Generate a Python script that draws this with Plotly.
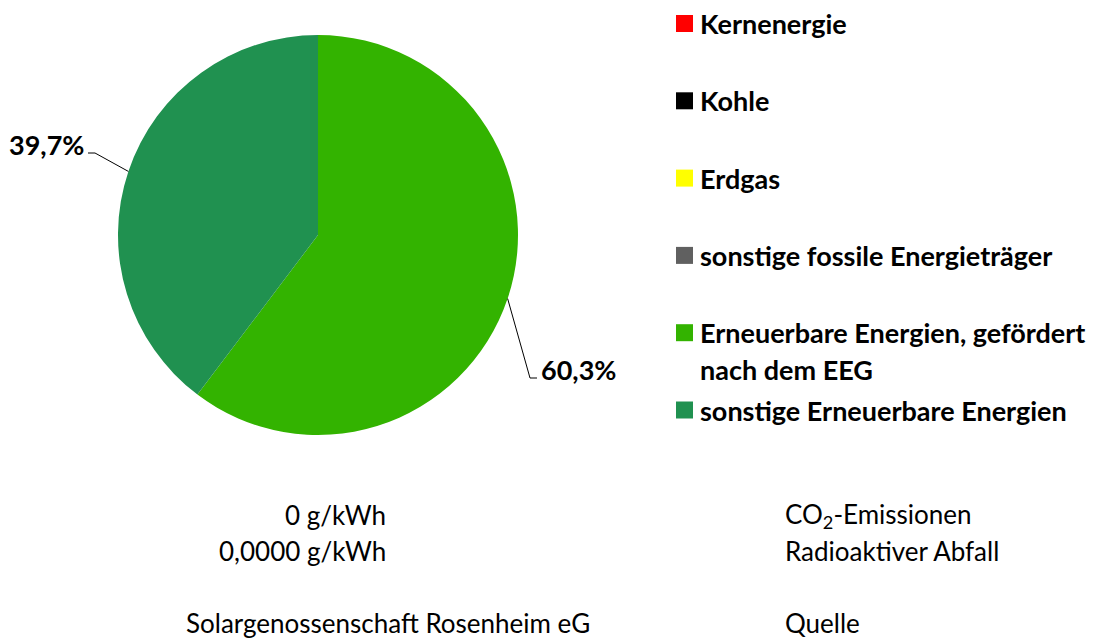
import math
import plotly.graph_objects as go

# ---- data ----
categories = ["Kernenergie", "Kohle", "Erdgas", "sonstige fossile Energieträger",
              "Erneuerbare Energien, gefördert nach dem EEG", "sonstige Erneuerbare Energien"]
legend_lines = [["Kernenergie"], ["Kohle"], ["Erdgas"], ["sonstige fossile Energieträger"],
                ["Erneuerbare Energien, gefördert", "nach dem EEG"], ["sonstige Erneuerbare Energien"]]
values = [0.0, 0.0, 0.0, 0.0, 60.3, 39.7]
colors = ["#FF0000", "#000000", "#FFFF00", "#606060", "#33B300", "#209150"]

info_values = ["0 g/kWh", "0,0000 g/kWh", "Solargenossenschaft Rosenheim eG"]
info_labels = ["CO<sub>2</sub>-Emissionen", "Radioaktiver Abfall", "Quelle"]

# ---- layout constants (pixels) ----
W, H = 1099, 639
CX, CY, R = 318, 235, 200
FONT = "Lato"
BOLD_SIZE = 27
REG_SIZE = 26

fig = go.Figure()

fig.add_trace(go.Pie(
    labels=categories, values=values, sort=False, direction="clockwise", rotation=0,
    marker=dict(colors=colors, line=dict(width=0)),
    textinfo="none", hoverinfo="label+percent", showlegend=False,
    domain=dict(x=[(CX - R) / W, (CX + R) / W], y=[1 - (CY + R) / H, 1 - (CY - R) / H]),
))

# legend squares (manual legend)
leg_y0, leg_step = 23.5, 77.3
leg_y = [leg_y0 + leg_step * i for i in range(len(categories))]
fig.add_trace(go.Scatter(
    x=[684.5] * len(categories), y=leg_y, mode="markers",
    marker=dict(symbol="square", size=17, color=colors, line=dict(width=0)),
    showlegend=False, hoverinfo="skip",
))

annotations = []
for lines, y in zip(legend_lines, leg_y):
    for j, t in enumerate(lines):
        annotations.append(dict(x=698, y=y + 37 * j, xref="x", yref="y", text=t, showarrow=False,
                                xanchor="left", yanchor="middle",
                                font=dict(family=FONT, size=BOLD_SIZE, color="#000000", weight="bold")))

# slice labels with leader lines
total = sum(values)
cum = 0.0
elbows = {4: (530, 378, 1), 5: (95, 153, -1)}
shapes = []
for i, v in enumerate(values):
    if v <= 0:
        cum += v
        continue
    mid = (cum + v / 2) / total * 2 * math.pi
    cum += v
    ex = CX + R * math.sin(mid)
    ey = CY - R * math.cos(mid)
    bx, by, side = elbows[i]
    hx = bx + 7 * side
    shapes.append(dict(type="path", xref="x", yref="y",
                       path=f"M {ex},{ey} L {bx},{by} L {hx},{by}",
                       line=dict(color="#000000", width=1)))
    annotations.append(dict(x=hx + 2 * side, y=by - 9, xref="x", yref="y",
                            text=f"{v:.1f}%".replace(".", ","), showarrow=False,
                            xanchor="left" if side > 0 else "right", yanchor="middle",
                            font=dict(family=FONT, size=BOLD_SIZE, color="#000000", weight="bold")))

# bottom info text
info_y = [515, 551, 623]
for val, lab, y in zip(info_values, info_labels, info_y):
    if val.startswith("Solar"):
        annotations.append(dict(x=388, y=y, xref="x", yref="y", text=val, showarrow=False,
                                xanchor="center", yanchor="middle",
                                font=dict(family=FONT, size=REG_SIZE, color="#000000")))
    else:
        annotations.append(dict(x=388, y=y, xref="x", yref="y", text=val, showarrow=False,
                                xanchor="right", yanchor="middle",
                                font=dict(family=FONT, size=REG_SIZE, color="#000000")))
    annotations.append(dict(x=783, y=y, xref="x", yref="y", text=lab, showarrow=False,
                            xanchor="left", yanchor="middle",
                            font=dict(family=FONT, size=REG_SIZE, color="#000000")))

fig.update_layout(
    width=W, height=H, margin=dict(l=0, r=0, t=0, b=0),
    paper_bgcolor="#FFFFFF", plot_bgcolor="rgba(0,0,0,0)",
    xaxis=dict(range=[0, W], visible=False, fixedrange=True, domain=[0, 1]),
    yaxis=dict(range=[H, 0], visible=False, fixedrange=True, domain=[0, 1]),
    annotations=annotations, shapes=shapes, showlegend=False,
)

fig.write_html("out.html", config={"displayModeBar": False},
               post_script="document.body.style.margin='0';document.body.style.overflow='hidden';")
